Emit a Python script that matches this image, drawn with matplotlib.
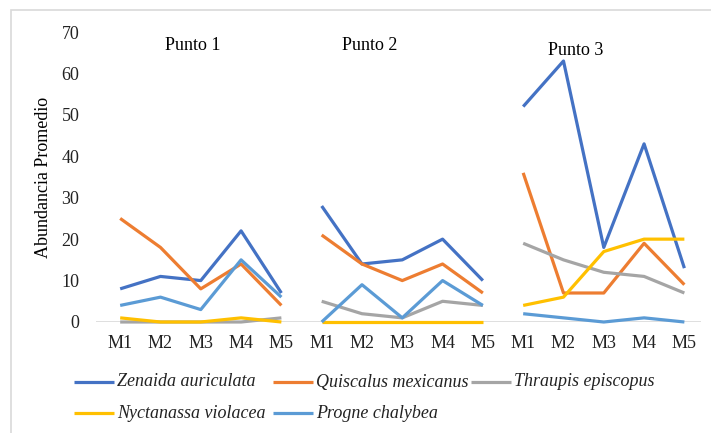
import numpy as np
import matplotlib.pyplot as plt
import matplotlib.patches as patches
from matplotlib.lines import Line2D

plt.rcParams['font.family'] = ['Liberation Serif', 'DejaVu Serif']

#%% Data
meses = ['M1', 'M2', 'M3', 'M4', 'M5']
puntos = ['Punto 1', 'Punto 2', 'Punto 3']
especies = ['Zenaida auriculata', 'Quiscalus mexicanus', 'Thraupis episcopus',
            'Nyctanassa violacea', 'Progne chalybea']

zenaida = [[8, 11, 10, 22, 7], [28, 14, 15, 20, 10], [52, 63, 18, 43, 13]]
quiscalus = [[25, 18, 8, 14, 4], [21, 14, 10, 14, 7], [36, 7, 7, 19, 9]]
thraupis = [[0, 0, 0, 0, 1], [5, 2, 1, 5, 4], [19, 15, 12, 11, 7]]
nyctanassa = [[1, 0, 0, 1, 0], [0, 0, 0, 0, 0], [4, 6, 17, 20, 20]]
progne = [[4, 6, 3, 15, 6], [0, 9, 1, 10, 4], [2, 1, 0, 1, 0]]

colores = ['#4472C4', '#ED7D31', '#A5A5A5', '#FFC000', '#5B9BD5']

fs = 13
W, H = 711, 433

#%% Plot
fig = plt.figure(figsize=(7.11, 4.33), dpi=100)
fig.patches.append(patches.Rectangle((11/W, -0.1), 1.1, 1 - 10/H + 0.1,
                                     transform=fig.transFigure, fill=False,
                                     edgecolor='#d9d9d9', linewidth=1.2))
ax = fig.add_axes([96/W, 111/H, 604.5/W, 290/H])

ax.axhline(0, color='#d9d9d9', linewidth=1.2, zorder=1)

series = [zenaida, quiscalus, thraupis, nyctanassa, progne]
for s, datos in enumerate(series):
    for p in range(3):
        x = np.arange(5) + 5*p
        ax.plot(x, datos[p], color=colores[s], linewidth=2.3,
                solid_capstyle='butt', clip_on=False, zorder=2+s)

ax.set_xlim(-0.6, 14.4)
ax.set_ylim(0, 70)
ax.set_yticks(np.arange(0, 71, 10))
ax.set_xticks(np.arange(15))
ax.set_xticklabels(meses*3)
ax.tick_params(length=0, labelsize=fs, colors='#222222')
ax.tick_params(axis='y', pad=12)
ax.tick_params(axis='x', pad=9)
for sp in ax.spines.values():
    sp.set_visible(False)

ax.set_ylabel('Abundancia Promedio', fontsize=fs, labelpad=7)

ax.text(1.8, 66.8, puntos[0], ha='center', va='center', fontsize=fs)
ax.text(6.2, 66.8, puntos[1], ha='center', va='center', fontsize=fs)
ax.text(11.3, 65.6, puntos[2], ha='center', va='center', fontsize=fs)

#%% Legend (Excel style, row by row)
pos = [(74, 382), (273, 382), (471, 382), (74, 413), (273, 413)]
renderer = fig.canvas.get_renderer()
for i, (px, py) in enumerate(pos):
    fig.add_artist(Line2D([px/W, (px + 40)/W], [1 - py/H, 1 - py/H],
                          transform=fig.transFigure, color=colores[i],
                          linewidth=2.3, solid_capstyle='butt'))
    t = fig.text((px + 43)/W, 1 - py/H, especies[i], ha='left', va='center',
                 style='italic', fontsize=fs, color='#222222')
    if i == 2:
        # Excel squeezes the last entry to fit
        w = t.get_window_extent(renderer).width
        if w > 140:
            t.set_fontsize(max(fs*140/w, 11.5))

plt.savefig('out.png', dpi=100)
